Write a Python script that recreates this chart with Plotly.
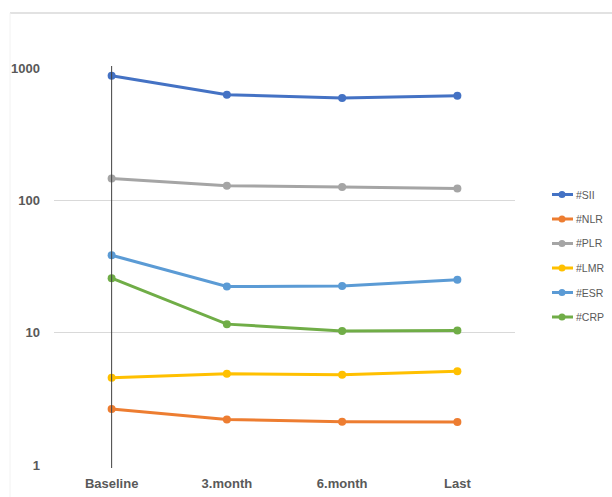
import plotly.graph_objects as go

# Time points
timepoints = ["Baseline", "3.month", "6.month", "Last"]

# Inflammatory markers (median values) at each time point
sii = [875, 628, 593, 617]
nlr = [2.65, 2.21, 2.12, 2.11]
plr = [146, 129, 126, 123]
lmr = [4.57, 4.90, 4.81, 5.10]
esr = [38.5, 22.3, 22.5, 25.1]
crp = [25.8, 11.6, 10.3, 10.4]

series_names = ["#SII", "#NLR", "#PLR", "#LMR", "#ESR", "#CRP"]
series_values = [sii, nlr, plr, lmr, esr, crp]
series_colors = ["#4472C4", "#ED7D31", "#A5A5A5", "#FFC000", "#5B9BD5", "#70AD47"]

y_tick_values = [1, 10, 100, 1000]
y_tick_labels = ["1", "10", "100", "1000"]

W, H = 612, 497
L, R, T, B = 54, 97, 68, 32
plot_w = W - L - R
plot_h = H - T - B

fig = go.Figure()
for name, vals, col in zip(series_names, series_values, series_colors):
    fig.add_trace(go.Scatter(
        x=timepoints, y=vals, name=name, mode="lines+markers",
        line=dict(color=col, width=3),
        marker=dict(color=col, size=8),
        showlegend=False,
    ))


def px_x(px):
    return (px - L) / plot_w


def px_y(py):
    return 1 - (py - T) / plot_h


# chart frame border (top and left edges)
fig.add_shape(type="line", xref="paper", yref="paper",
              x0=px_x(10), x1=px_x(W + 5), y0=px_y(13), y1=px_y(13),
              line=dict(color="#D9D9D9", width=1.5))
fig.add_shape(type="line", xref="paper", yref="paper",
              x0=px_x(10), x1=px_x(10), y0=px_y(13), y1=px_y(H + 5),
              line=dict(color="#F2F2F2", width=1))

# vertical axis line crossing at Baseline
fig.add_shape(type="line", xref="x", yref="paper",
              x0=0, x1=0, y0=px_y(66), y1=px_y(468),
              line=dict(color="#404040", width=1))

# legend: short line with a dot, then the series name
leg_top, leg_step = 194.5, 24.5
for i, (name, col) in enumerate(zip(series_names, series_colors)):
    yy = leg_top + i * leg_step
    fig.add_shape(type="line", xref="paper", yref="paper",
                  x0=px_x(552), x1=px_x(573), y0=px_y(yy), y1=px_y(yy),
                  line=dict(color=col, width=3))
    fig.add_shape(type="circle", xref="paper", yref="paper",
                  x0=px_x(558.5), x1=px_x(565.5), y0=px_y(yy - 3.5), y1=px_y(yy + 3.5),
                  fillcolor=col, line=dict(color=col, width=0))
    fig.add_annotation(xref="paper", yref="paper", x=px_x(574), y=px_y(yy),
                       xanchor="left", yanchor="middle", showarrow=False,
                       text=name, font=dict(size=10.5, color="#595959",
                                            family="Liberation Sans Narrow, Liberation Sans"))

fig.update_layout(
    width=W, height=H,
    margin=dict(l=L, r=R, t=T, b=B, autoexpand=False),
    paper_bgcolor="white", plot_bgcolor="white",
    font=dict(family="Liberation Sans Narrow, Liberation Sans, Arial", color="#595959"),
    xaxis=dict(
        type="category", range=[-0.5, 3.5],
        tickvals=timepoints, ticktext=["<b>%s</b>" % t for t in timepoints],
        showgrid=False, zeroline=False, showline=False,
        tickfont=dict(size=13, color="#595959", family="Liberation Sans Narrow, Liberation Sans"),
        ticks="", ticklabelstandoff=9, automargin=False,
    ),
    yaxis=dict(
        type="log", range=[0, 3],
        tickvals=y_tick_values, ticktext=["<b>%s</b>" % t for t in y_tick_labels],
        showgrid=True, gridcolor="#D9D9D9", gridwidth=1,
        zeroline=False, showline=False, ticks="",
        tickfont=dict(size=13, color="#595959"),
        ticklabelstandoff=13, automargin=False,
    ),
    showlegend=False,
)

fig.write_html("out.html")
